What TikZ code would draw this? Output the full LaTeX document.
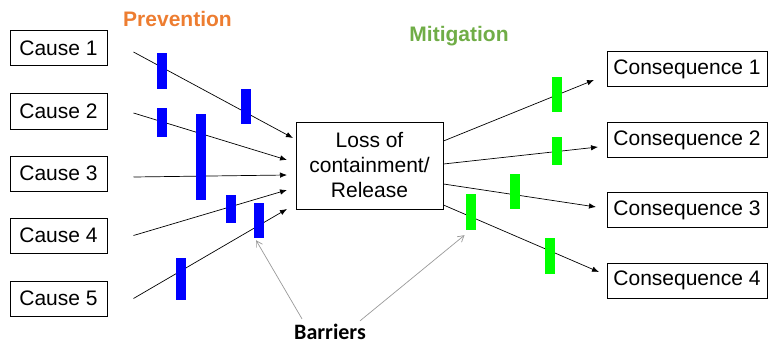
\documentclass[tikz,border=0pt]{standalone}
\usepackage{fontspec}
\setmainfont{Liberation Sans}
\newfontfamily\barrierfont{Carlito}
\usetikzlibrary{arrows.meta}

\definecolor{prevorange}{RGB}{237,125,49}
\definecolor{mitigreen}{RGB}{112,173,71}

\begin{document}
\begin{tikzpicture}[x=1pt,y=-1pt,
  box/.style={draw,line width=1pt,inner sep=0pt,font=\fontsize{21}{25}\selectfont},
  cause/.style={box,minimum width=97pt,minimum height=35pt},
  conseq/.style={box,minimum width=160pt,minimum height=35pt},
  bluebar/.style={fill=blue,minimum width=10pt,inner sep=0pt},
  greenbar/.style={fill=green,minimum width=10pt,inner sep=0pt},
  flow/.style={-{Latex[length=7pt,width=5.5pt]},line width=0.7pt},
  pointer/.style={-{Straight Barb[length=6pt,width=7pt]},draw=black!40,line width=0.7pt},
  heading/.style={font=\fontsize{21}{25}\selectfont\bfseries,anchor=base}
]
\useasboundingbox (0,0) rectangle (769,345);

\node[cause] (c1) at (58.5,48.5) {Cause 1};
\node[cause] (c2) at (58.5,111.5) {Cause 2};
\node[cause] (c3) at (58.5,173.5) {Cause 3};
\node[cause] (c4) at (58.5,235.5) {Cause 4};
\node[cause] (c5) at (58.5,298.5) {Cause 5};

\node[box,minimum width=147pt,minimum height=87pt,align=center] (loss) at (369.5,165.5)
  {Loss of\\containment/\\Release};

\node[conseq] (q1) at (687,69) {Consequence 1};
\node[conseq] (q2) at (687,140) {Consequence 2};
\node[conseq] (q3) at (687,210) {Consequence 3};
\node[conseq] (q4) at (687,280.5) {Consequence 4};

\node[heading,text=prevorange] (prev) at (177.5,27) {Prevention};
\node[heading,text=mitigreen] (miti) at (459,42) {Mitigation};
\node[anchor=base,inner sep=0pt,font=\fontsize{22}{26}\selectfont\barrierfont\bfseries] (barr) at (330,339.5) {Barriers};

\coordinate (in1) at (293,138);
\coordinate (in2) at (287,160);
\coordinate (in3) at (287,175);
\coordinate (in4) at (287,190);
\coordinate (in5) at (287,209);

\draw[flow] ([xshift=26pt,yshift=-3.5pt]c1.east) -- (in1);
\draw[flow] ([xshift=26pt,yshift=-1.5pt]c2.east) -- (in2);
\draw[flow] ([xshift=26pt,yshift=-3.5pt]c3.east) -- (in3);
\draw[flow] ([xshift=26pt]c4.east) -- (in4);
\draw[flow] ([xshift=26pt]c5.east) -- (in5);

\coordinate (out1) at (594,80);
\coordinate (out2) at (598,147);
\coordinate (out3) at (596,207);
\coordinate (out4) at (599,272);

\draw[flow] ([yshift=24.5pt]loss.east) -- (out1);
\draw[flow] ([yshift=1.5pt]loss.east) -- (out2);
\draw[flow] ([yshift=-18.5pt]loss.east) -- (out3);
\draw[flow] ([yshift=-39.5pt]loss.east) -- (out4);

\node[bluebar,minimum height=36pt] (b1) at (162,71) {};
\node[bluebar,minimum height=35pt] (b2) at (245.5,106.5) {};
\node[bluebar,minimum height=29pt] (b3) at (162,122.5) {};
\node[bluebar,minimum height=86pt] (b4) at (200.5,157) {};
\node[bluebar,minimum height=28pt] (b5) at (231,209) {};
\node[bluebar,minimum height=35pt] (b6) at (259,220.5) {};
\node[bluebar,minimum height=42pt] (b7) at (181,279) {};

\node[greenbar,minimum height=35pt] (g1) at (557,94.5) {};
\node[greenbar,minimum height=28pt] (g2) at (557,151) {};
\node[greenbar,minimum height=35pt] (g3) at (514.5,191.5) {};
\node[greenbar,minimum height=36pt] (g4) at (550,256) {};
\node[greenbar,minimum height=36pt] (g5) at (470.5,212) {};

\draw[pointer] ([xshift=-28pt,yshift=5pt]barr.north) -- ([xshift=-3pt,yshift=-2pt]b6.south);
\draw[pointer] ([xshift=30pt,yshift=3pt]barr.north) -- ([xshift=-6pt,yshift=-5pt]g5.south);

\end{tikzpicture}
\end{document}
